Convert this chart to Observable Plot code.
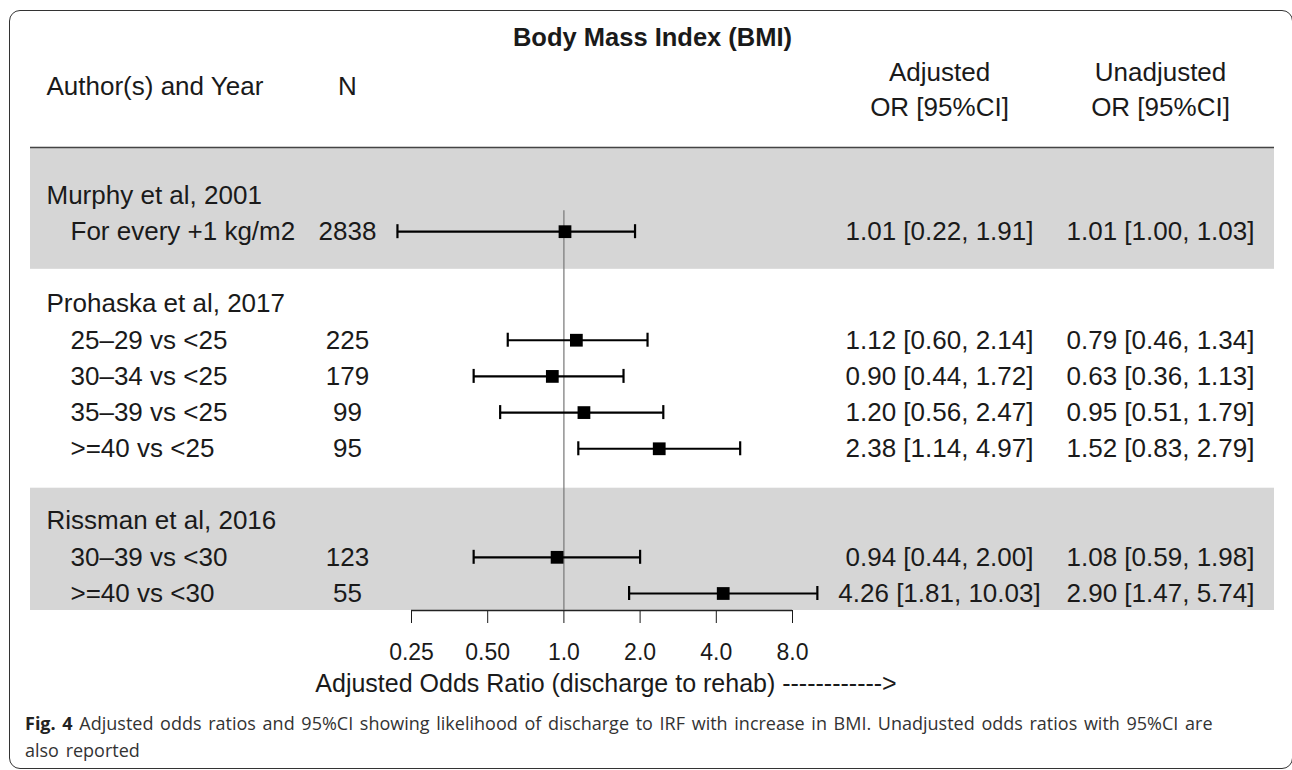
<!DOCTYPE html>
<html><head><meta charset="utf-8">
<script src="https://cdn.jsdelivr.net/npm/d3@7"></script>
<script src="https://cdn.jsdelivr.net/npm/@observablehq/plot@0.6"></script>
<style>
html,body{margin:0;padding:0;background:#fff;}
#wrap{position:relative;width:1292px;height:770px;overflow:hidden;}
#border{position:absolute;left:9px;top:10px;width:1284px;height:759px;box-sizing:border-box;border:1.5px solid #333;border-radius:11px;}
#chart{position:absolute;left:0;top:0;}
#caption{position:absolute;left:25px;top:710px;font-family:"Open Sans",sans-serif;font-size:18px;word-spacing:2px;line-height:27px;color:#333;white-space:nowrap;}
#caption b{color:#222;}
</style></head>
<body>
<div id="wrap">
  <div id="border"></div>
  <div id="chart"></div>
  <div id="caption"><b>Fig. 4</b> Adjusted odds ratios and 95%CI showing likelihood of discharge to IRF with increase in BMI. Unadjusted odds ratios with 95%CI are<br>also reported</div>
</div>
<script>
// ---- data ----
const title = "Body Mass Index (BMI)";
const headerLeft = ["Author(s) and Year"];
const headerN = ["N"];
const headerAdj = ["Adjusted\nOR [95%CI]"];
const headerUnadj = ["Unadjusted\nOR [95%CI]"];
const studies = ["Murphy et al, 2001", "Prohaska et al, 2017", "Rissman et al, 2016"];
const comparisons = ["For every +1 kg/m2", "25–29 vs <25", "30–34 vs <25", "35–39 vs <25", ">=40 vs <25", "30–39 vs <30", ">=40 vs <30"];
const comparisonStudy = [0, 1, 1, 1, 1, 2, 2];
const nValues = [2838, 225, 179, 99, 95, 123, 55];
const adjOR = [1.01, 1.12, 0.90, 1.20, 2.38, 0.94, 4.26];
const adjLo = [0.22, 0.60, 0.44, 0.56, 1.14, 0.44, 1.81];
const adjHi = [1.91, 2.14, 1.72, 2.47, 4.97, 2.00, 10.03];
const unadjOR = [1.01, 0.79, 0.63, 0.95, 1.52, 1.08, 2.90];
const unadjLo = [1.00, 0.46, 0.36, 0.51, 0.83, 0.59, 1.47];
const unadjHi = [1.03, 1.34, 1.13, 1.79, 2.79, 1.98, 5.74];
const shadedStudies = [0, 2];
const xTicks = [0.25, 0.5, 1, 2, 4, 8];
const xTickLabels = ["0.25", "0.50", "1.0", "2.0", "4.0", "8.0"];
const xLabel = "Adjusted Odds Ratio (discharge to rehab) ------------>";

// ---- layout (row units) ----
const fmt = (o, l, h) => `${o.toFixed(2)} [${l.toFixed(2)}, ${h.toFixed(2)}]`;
const studyRows = [], compRows = [];
let r = 0;
studies.forEach((s, si) => {
  const first = r;
  studyRows.push({label: s, row: r++, study: si});
  comparisons.forEach((c, ci) => {
    if (comparisonStudy[ci] !== si) return;
    compRows.push({
      label: c, row: r++, n: String(nValues[ci]),
      or: adjOR[ci], lo: adjLo[ci], hi: adjHi[ci],
      adjText: fmt(adjOR[ci], adjLo[ci], adjHi[ci]),
      unadjText: fmt(unadjOR[ci], unadjLo[ci], unadjHi[ci])
    });
  });
  studyRows[studyRows.length - 1].first = first;
  studyRows[studyRows.length - 1].last = r - 1;
  r++;
});
const headerRow = -3;
const headerRule = -1.33;
const axisRow = 11.47;
const refTop = 0.42;
const bandPad = [{top: 1.33, bottom: 1.04}, {top: 0.91, bottom: 0.47}];
const bands = shadedStudies.map((si, k) => {
  const s = studyRows.find(d => d.study === si);
  return {top: s.first - bandPad[k].top, bottom: s.last + bandPad[k].bottom};
});

const FS = 26;
const txt = {fill: "#1a1a1a", fontSize: FS};

const plot = Plot.plot({
  width: 1292, height: 700,
  marginLeft: 30, marginRight: 18, marginTop: 0, marginBottom: 90,
  style: {fontFamily: "'Liberation Sans', Arial, sans-serif", fontSize: "23px", color: "#1a1a1a", background: "transparent", overflow: "visible"},
  x: {type: "log", base: 2, domain: [xTicks[0], xTicks[xTicks.length - 1]], range: [411, 792],
      ticks: xTicks, tickFormat: d => xTickLabels[xTicks.indexOf(d)], tickSize: 13, tickPadding: 20, label: null},
  y: {domain: [0, 11], range: [195, 593], axis: null},
  marks: [
    Plot.rect(bands, {y1: "top", y2: "bottom", fill: "#d6d6d6"}),
    Plot.ruleY([headerRule], {stroke: "#444", strokeWidth: 1.5}),
    Plot.ruleY([axisRow], {x1: xTicks[0], x2: xTicks[xTicks.length - 1], stroke: "#222", strokeWidth: 1.5}),
    Plot.ruleX([1], {y1: refTop, y2: axisRow, stroke: "#777", strokeWidth: 1.2}),
    Plot.ruleY(compRows, {y: "row", x1: "lo", x2: "hi", stroke: "#000", strokeWidth: 2.2}),
    Plot.ruleX(compRows, {x: "lo", y1: "row", y2: "row", insetTop: -7, insetBottom: -7, stroke: "#000", strokeWidth: 2.2}),
    Plot.ruleX(compRows, {x: "hi", y1: "row", y2: "row", insetTop: -7, insetBottom: -7, stroke: "#000", strokeWidth: 2.2}),
    Plot.dot(compRows, {x: "or", y: "row", symbol: "square", r: 7.2, fill: "#000", stroke: "none"}),
    // headers
    Plot.text([title], {frameAnchor: "top", lineAnchor: "middle", dy: 37, fontWeight: "bold", fill: "#1a1a1a", fontSize: 25.5}),
    Plot.text(headerLeft, {y: () => headerRow, frameAnchor: "left", dx: 16, textAnchor: "start", ...txt}),
    Plot.text(headerN, {y: () => headerRow, frameAnchor: "left", dx: 317, textAnchor: "middle", ...txt}),
    Plot.text(headerAdj, {y: () => headerRow, frameAnchor: "left", dx: 909, textAnchor: "middle", lineHeight: 1.38, ...txt}),
    Plot.text(headerUnadj, {y: () => headerRow, frameAnchor: "left", dx: 1130, textAnchor: "middle", lineHeight: 1.38, ...txt}),
    // table columns
    Plot.text(studyRows, {y: "row", text: "label", frameAnchor: "left", dx: 16, textAnchor: "start", ...txt}),
    Plot.text(compRows, {y: "row", text: "label", frameAnchor: "left", dx: 40, textAnchor: "start", ...txt}),
    Plot.text(compRows, {y: "row", text: "n", frameAnchor: "left", dx: 317, textAnchor: "middle", ...txt}),
    Plot.text(compRows, {y: "row", text: "adjText", frameAnchor: "left", dx: 909, textAnchor: "middle", ...txt}),
    Plot.text(compRows, {y: "row", text: "unadjText", frameAnchor: "left", dx: 1130, textAnchor: "middle", ...txt}),
    // axis title
    Plot.text([xLabel], {x: () => Math.sqrt(xTicks[0] * xTicks[xTicks.length - 1]), frameAnchor: "bottom", lineAnchor: "middle", dy: 73, dx: 4, fill: "#1a1a1a", fontSize: 25})
  ]
});
document.getElementById("chart").appendChild(plot);
</script>
</body></html>
